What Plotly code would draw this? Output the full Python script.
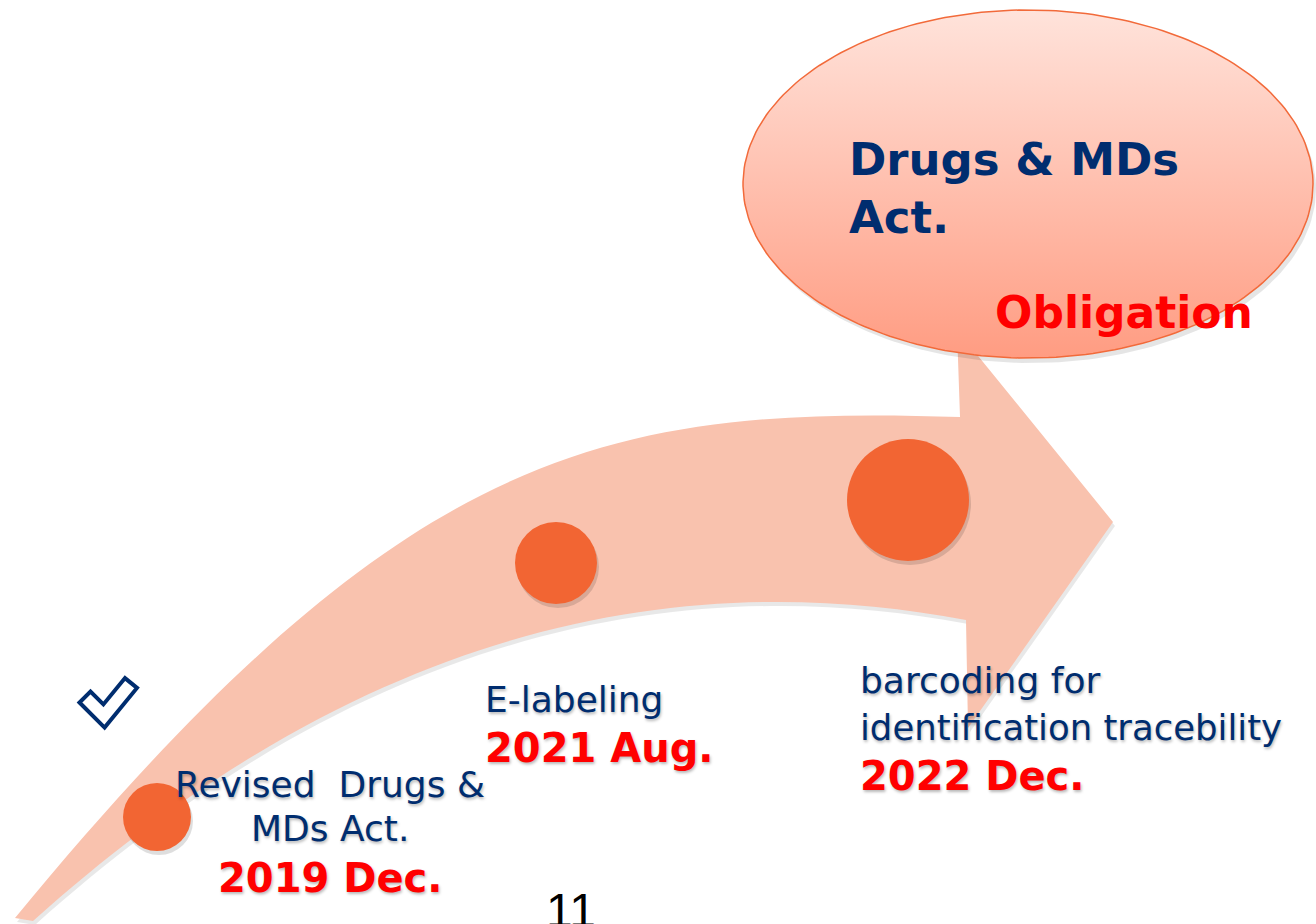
import numpy as np
import plotly.graph_objects as go

# ---------------- content ----------------
event_lines = [["Revised\u00a0 Drugs &", "MDs Act."],
               ["E-labeling"],
               ["barcoding for", "identification tracebility"]]
event_dates = ["2019 Dec.", "2021 Aug.", "2022 Dec."]
goal_title_lines = ["Drugs & MDs", "Act."]
goal_status = "Obligation"
page_number = "11"

# ---------------- layout / styling ----------------
W, H = 1316, 924
NAVY = "#002D6F"
RED = "#FF0000"
DOT = "#F26533"
BAND = "#F9C2AE"
FONT = "DejaVu Sans"
SHADOW = "1px 2px 3px rgba(0,0,0,0.28)"

dot_centers = [(157, 817), (556, 563), (908, 500)]
dot_radii = [34, 41, 61]

label_x = [330, 483, 858]
label_anchor = ["center", "left", "left"]
label_line_base = [[797, 841], [712], [693, 740]]
label_date_base = [892, 762, 790]

ell_c = (1028, 184)
ell_r = (285, 174)

fig = go.Figure()
shapes = []
annotations = []

# curved band arrow
band_path = ("M 15,918 C 400,450 600,405 960,417 L 957,330 L 1113,522 "
             "L 968,728 L 966,620 C 700,570 380,610 33,921 Z")
shadow_path = ("M 17,922 C 402,454 602,409 962,421 L 959,334 L 1115,526 "
               "L 970,732 L 968,624 C 702,574 382,614 35,925 Z")
shapes.append(dict(type="path", path=shadow_path, xref="x", yref="y",
                   fillcolor="rgba(0,0,0,0.09)", line=dict(width=0), layer="below"))
shapes.append(dict(type="path", path=band_path, xref="x", yref="y",
                   fillcolor=BAND, line=dict(width=0), layer="below"))

# milestone dots
for (cx, cy), r in zip(dot_centers, dot_radii):
    shapes.append(dict(type="circle", xref="x", yref="y",
                       x0=cx - r + 2, x1=cx + r + 2, y0=cy - r + 4, y1=cy + r + 4,
                       fillcolor="rgba(0,0,0,0.13)", line=dict(width=0), layer="below"))
    shapes.append(dict(type="circle", xref="x", yref="y",
                       x0=cx - r, x1=cx + r, y0=cy - r, y1=cy + r,
                       fillcolor=DOT, line=dict(width=0), layer="below"))


# check mark (outlined)
def check_poly(A, B, C, w):
    A, B, C = (np.array(p, float) for p in (A, B, C))
    d1 = (B - A) / np.linalg.norm(B - A)
    d2 = (C - B) / np.linalg.norm(C - B)
    n1 = np.array([-d1[1], d1[0]])
    n2 = np.array([-d2[1], d2[0]])

    def inter(p, d, q, e):
        M = np.array([d, -e]).T
        s, _ = np.linalg.solve(M, q - p)
        return p + s * d

    o1 = inter(A + n1 * w, d1, B + n2 * w, d2)
    o2 = inter(A - n1 * w, d1, B - n2 * w, d2)
    pts = [A + n1 * w, o1, C + n2 * w, C - n2 * w, o2, A - n1 * w]
    return "M " + " L ".join(f"{p[0]:.1f},{p[1]:.1f}" for p in pts) + " Z"


cp = check_poly((85, 697), (104, 716), (131, 683), 7.8)
shapes.append(dict(type="path", path=cp, xref="x", yref="y",
                   fillcolor="white", line=dict(color=NAVY, width=4), layer="below"))

# ellipse (gradient fill via trace)
t = np.linspace(0, 2 * np.pi, 240)
ex = ell_c[0] + ell_r[0] * np.cos(t)
ey = ell_c[1] + ell_r[1] * np.sin(t)
fig.add_trace(go.Scatter(x=ex + 3, y=ey + 5, mode="lines", fill="toself",
                         fillcolor="rgba(0,0,0,0.10)", line=dict(width=0),
                         hoverinfo="skip", showlegend=False))
fig.add_trace(go.Scatter(x=ex, y=ey, mode="lines", fill="toself",
                         fillgradient=dict(type="vertical",
                                           colorscale=[[0, "#FFE3DB"], [1, "#FF9C82"]],
                                           start=ell_c[1] - ell_r[1], stop=ell_c[1] + ell_r[1]),
                         line=dict(color="#F26A3A", width=1.5),
                         hoverinfo="skip", showlegend=False))


def label(text, x, base, size, color, bold, anchor, family=FONT, shadow=SHADOW):
    annotations.append(dict(
        x=x, y=base - 0.35 * size, xref="x", yref="y", text=text, showarrow=False,
        xanchor=anchor, yanchor="middle",
        font=dict(family=family, size=size, color=color,
                  weight="bold" if bold else "normal", shadow=shadow)))


# goal text
label(goal_title_lines[0], 847, 175, 45, NAVY, True, "left", shadow="none")
label(goal_title_lines[1], 847, 233, 45, NAVY, True, "left", shadow="none")
label(goal_status, 993, 328, 44, RED, True, "left", shadow="none")

# milestone labels
for lines, date, x, anc, bases, dbase in zip(event_lines, event_dates, label_x,
                                              label_anchor, label_line_base, label_date_base):
    for ln, b in zip(lines, bases):
        label(ln, x, b, 36 if len(ln) < 20 else 35.5, NAVY, False, anc)
    label(date, x, dbase, 40, RED, True, anc)

# page number
label(page_number, 571, 927, 48, "black", False, "center", family="Liberation Sans", shadow="none")

fig.update_layout(
    width=W, height=H, margin=dict(l=0, r=0, t=0, b=0),
    paper_bgcolor="white", plot_bgcolor="white",
    xaxis=dict(range=[0, W], visible=False, fixedrange=True),
    yaxis=dict(range=[H, 0], visible=False, fixedrange=True),
    shapes=shapes, annotations=annotations, showlegend=False,
)
fig.write_html("out.html", config={"displayModeBar": False},
               post_script="document.body.style.margin='0';document.body.style.overflow='hidden';")
